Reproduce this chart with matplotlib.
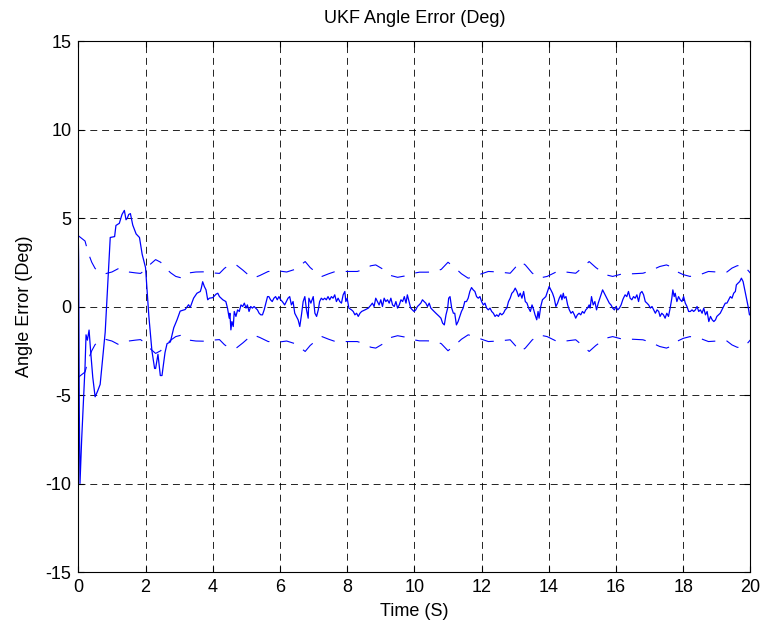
import numpy as np
import matplotlib
matplotlib.use("Agg")
import matplotlib.pyplot as plt

# angle error samples (time s, error deg)
t_err = [0.0, 0.01, 0.03, 0.05, 0.1, 0.2, 0.23, 0.27, 0.32, 0.37, 0.43, 0.5, 0.57, 0.65, 0.8,
         0.95, 1.08, 1.12, 1.22, 1.3, 1.37, 1.42, 1.46, 1.5, 1.55, 1.62, 1.72, 1.82, 1.9, 2.0,
         2.1, 2.19, 2.27, 2.3, 2.37, 2.44, 2.49, 2.58, 2.64, 2.74, 2.84, 2.94, 3.03, 3.18, 3.28,
         3.33, 3.43, 3.53, 3.63, 3.66, 3.7, 3.75, 3.8, 3.85, 3.9, 4.0, 4.1, 4.15, 4.2, 4.3,
         4.39, 4.44, 4.49, 4.51, 4.54, 4.57, 4.61, 4.64, 4.69, 4.74, 4.79, 4.84, 4.89, 4.94, 4.99,
         5.03, 5.08, 5.13, 5.18, 5.23, 5.33, 5.38, 5.43, 5.48, 5.53, 5.58, 5.63, 5.67, 5.72, 5.77,
         5.82, 5.87, 5.92, 5.97, 6.02, 6.07, 6.14, 6.24, 6.29, 6.34, 6.39, 6.44, 6.49, 6.54, 6.59,
         6.64, 6.69, 6.74, 6.79, 6.84, 6.86, 6.92, 6.99, 7.04, 7.09, 7.14, 7.18, 7.23, 7.28, 7.33,
         7.38, 7.43, 7.48, 7.53, 7.58, 7.63, 7.68, 7.73, 7.78, 7.83, 7.88, 7.93, 7.96, 8.0, 8.05,
         8.13, 8.18, 8.23, 8.28, 8.33, 8.38, 8.43, 8.53, 8.63, 8.71, 8.75, 8.8, 8.85, 8.9, 8.95,
         9.0, 9.05, 9.1, 9.15, 9.2, 9.25, 9.3, 9.35, 9.4, 9.45, 9.5, 9.55, 9.6, 9.65, 9.7,
         9.75, 9.79, 9.84, 9.89, 9.94, 9.99, 10.04, 10.09, 10.14, 10.19, 10.24, 10.29, 10.34, 10.39, 10.44,
         10.49, 10.54, 10.64, 10.74, 10.79, 10.84, 10.89, 10.94, 10.99, 11.02, 11.06, 11.11, 11.16, 11.2, 11.25,
         11.3, 11.35, 11.4, 11.45, 11.5, 11.55, 11.6, 11.65, 11.7, 11.75, 11.8, 11.85, 11.9, 11.95, 12.0,
         12.05, 12.1, 12.15, 12.2, 12.25, 12.3, 12.35, 12.4, 12.45, 12.5, 12.55, 12.6, 12.65, 12.7, 12.75,
         12.8, 12.85, 12.9, 12.95, 13.0, 13.05, 13.1, 13.15, 13.2, 13.25, 13.3, 13.35, 13.4, 13.45, 13.5,
         13.55, 13.59, 13.64, 13.68, 13.71, 13.76, 13.81, 13.86, 13.91, 13.96, 14.01, 14.06, 14.11, 14.16, 14.21,
         14.26, 14.31, 14.36, 14.39, 14.43, 14.46, 14.51, 14.56, 14.61, 14.66, 14.71, 14.76, 14.8, 14.85, 14.9,
         14.95, 15.0, 15.05, 15.1, 15.15, 15.2, 15.23, 15.27, 15.32, 15.37, 15.42, 15.47, 15.55, 15.6, 15.65,
         15.7, 15.75, 15.8, 15.85, 15.9, 15.95, 16.0, 16.05, 16.1, 16.15, 16.2, 16.22, 16.27, 16.32, 16.37,
         16.42, 16.47, 16.52, 16.57, 16.62, 16.67, 16.72, 16.77, 16.82, 16.87, 16.92, 16.97, 17.02, 17.07, 17.12,
         17.17, 17.22, 17.27, 17.31, 17.36, 17.41, 17.46, 17.51, 17.56, 17.61, 17.66, 17.69, 17.73, 17.76, 17.81,
         17.86, 17.91, 17.96, 18.01, 18.06, 18.11, 18.16, 18.21, 18.26, 18.31, 18.36, 18.41, 18.46, 18.51, 18.56,
         18.61, 18.66, 18.71, 18.76, 18.81, 18.86, 18.91, 18.96, 19.0, 19.05, 19.1, 19.15, 19.2, 19.25, 19.3,
         19.35, 19.4, 19.45, 19.5, 19.55, 19.58, 19.63, 19.68, 19.73, 19.78, 19.83, 19.88, 19.93, 19.97, 20.0]
err = [3.9, 2.6, -6.0, -10.0, -7.5, -3.4, -1.6, -1.9, -1.33, -2.6, -4.0, -5.1, -4.8, -4.4, -1.45,
       3.9, 3.95, 4.58, 4.7, 5.2, 5.43, 4.9, 5.0, 5.2, 5.25, 4.6, 4.1, 3.9, 2.95, 2.2,
       -0.57, -2.5, -3.5, -3.5, -2.7, -3.9, -3.9, -2.6, -2.1, -2.0, -1.2, -0.74, -0.26, -0.17, 0.1,
       -0.05, 0.47, 0.75, 0.85, 1.04, 1.4, 1.13, 0.94, 0.38, 0.47, 0.5, 0.7, 0.75, 0.56, 0.38,
       0.28, -0.1, -0.66, -0.38, -1.32, -0.85, -1.13, -0.28, -0.56, -0.19, -0.28, 0.09, 0.0, 0.19, -0.09,
       0.09, -0.28, 0.0, -0.09, 0.0, -0.19, -0.38, -0.47, -0.47, -0.19, 0.19, 0.56, 0.56, 0.38, 0.28,
       0.47, 0.56, 0.38, 0.56, 0.38, 0.28, 0.09, 0.47, 0.56, 0.09, 0.28, -0.38, -0.56, -0.75, -1.13,
       -0.47, 0.28, 0.56, -0.19, -0.66, 0.47, 0.19, 0.56, -0.38, -0.56, -0.19, 0.28, 0.47, 0.38, 0.47,
       0.38, 0.56, 0.38, 0.56, 0.47, 0.66, 0.28, 0.47, 0.28, 0.19, 0.66, 0.85, 0.28, 0.47, -0.09,
       -0.19, -0.28, -0.47, -0.38, -0.56, -0.38, -0.28, -0.19, -0.09, 0.09, 0.19, 0.0, 0.47, 0.28, 0.09,
       0.38, 0.0, 0.47, 0.28, 0.38, 0.19, 0.47, 0.09, 0.0, 0.28, -0.09, 0.09, 0.38, 0.28, 0.56,
       0.19, 0.66, 0.28, -0.09, -0.19, -0.28, -0.19, 0.0, 0.09, 0.19, 0.38, 0.28, 0.19, 0.0, 0.19,
       -0.09, -0.19, -0.38, -0.56, -0.66, -0.94, -1.04, -0.47, -0.09, 0.47, 0.56, -0.09, -0.38, -0.38, -1.04,
       -0.85, -0.56, -0.28, -0.09, 0.28, 0.28, 0.47, 0.85, 1.07, 0.94, 0.85, 0.56, 0.47, 0.56, 0.28,
       0.09, 0.19, -0.09, -0.19, -0.09, -0.28, -0.38, -0.56, -0.47, -0.56, -0.38, -0.47, -0.38, -0.19, -0.09,
       0.28, 0.47, 0.75, 0.85, 1.04, 0.85, 0.56, 0.75, 0.47, 0.85, 0.28, 0.19, -0.09, -0.28, 0.09,
       -0.19, -0.47, -0.75, -0.28, -0.66, 0.0, 0.38, 0.47, 0.56, 0.85, 1.13, 0.94, 0.75, 0.47, 0.0,
       0.19, 0.47, 0.66, 0.38, 0.75, 0.47, 0.56, 0.09, -0.19, -0.38, -0.28, -0.47, -0.66, -0.47, -0.38,
       -0.47, -0.28, -0.38, -0.19, -0.09, 0.09, -0.09, 0.56, 0.09, 0.28, -0.19, 0.19, 0.66, 0.94, 0.75,
       0.56, 0.38, 0.19, 0.09, -0.09, -0.19, 0.0, -0.19, -0.09, 0.09, 0.38, 0.47, 0.66, 0.56, 0.85,
       0.47, 0.38, 0.56, 0.47, 0.66, 0.28, 0.75, 0.85, 0.66, 0.28, 0.19, 0.09, -0.09, 0.0, -0.19,
       -0.38, -0.19, -0.28, -0.56, -0.38, -0.47, -0.66, -0.38, -0.56, -0.09, 0.47, 0.94, 0.56, 0.75, 0.28,
       0.56, 0.38, 0.28, 0.56, 0.19, 0.0, -0.28, -0.28, -0.19, -0.28, -0.19, 0.0, -0.28, -0.19, -0.38,
       -0.09, -0.47, -0.28, -0.85, -0.56, -0.75, -0.85, -0.75, -0.56, -0.47, -0.38, -0.19, 0.0, 0.19, 0.19,
       0.38, 0.56, 0.47, 0.75, 0.85, 1.22, 1.32, 1.41, 1.6, 1.41, 0.94, 0.47, 0.0, -0.47, -0.47]

# 1-sigma style bound (deg), drawn as +/- dashed
t_bnd = [0.0, 0.1, 0.2, 0.3, 0.4, 0.5, 0.6, 0.7, 0.8, 1.0, 1.2, 1.35, 1.5, 1.7, 1.85,
         2.0, 2.15, 2.3, 2.45, 2.6, 2.75, 2.9, 3.1, 3.3, 3.5, 3.75, 4.0, 4.2, 4.35, 4.5,
         4.7, 4.9, 5.05, 5.2, 5.4, 5.65, 5.8, 6.0, 6.2, 6.45, 6.75, 6.9, 7.1, 7.25, 7.45,
         7.65, 8.0, 8.3, 8.5, 8.7, 8.85, 9.1, 9.3, 9.5, 9.7, 9.9, 10.15, 10.35, 10.6, 10.8,
         11.0, 11.2, 11.4, 11.6, 11.8, 12.0, 12.2, 12.5, 12.85, 13.0, 13.15, 13.3, 13.5, 13.7, 13.95,
         14.25, 14.5, 14.8, 15.0, 15.2, 15.4, 15.7, 15.9, 16.2, 16.5, 16.8, 17.0, 17.3, 17.5, 17.7,
         17.8, 18.0, 18.2, 18.5, 18.75, 19.0, 19.3, 19.45, 19.6, 19.75, 19.9, 20.0]
bnd = [4.0, 3.85, 3.7, 3.0, 2.5, 2.15, 1.98, 1.9, 1.85, 1.95, 2.15, 2.03, 1.95, 1.9, 1.87,
       2.07, 2.4, 2.65, 2.5, 2.16, 1.9, 1.7, 1.6, 1.9, 1.95, 1.96, 1.9, 1.87, 2.16, 2.35,
       2.35, 2.05, 1.8, 1.6, 1.75, 1.98, 1.98, 2.0, 1.95, 2.1, 2.54, 2.2, 1.88, 1.7, 1.85,
       1.98, 1.98, 1.98, 2.1, 2.3, 2.35, 2.07, 1.75, 1.65, 1.72, 1.85, 1.94, 1.94, 1.95, 2.1,
       2.5, 2.2, 1.85, 1.6, 1.7, 1.85, 1.98, 1.95, 1.88, 2.2, 2.54, 2.35, 1.9, 1.6, 1.7,
       1.98, 1.95, 1.88, 2.2, 2.54, 2.2, 1.79, 1.7, 1.85, 1.85, 1.88, 2.0, 2.26, 2.35, 2.2,
       1.98, 1.8, 1.7, 1.8, 1.98, 1.95, 1.95, 2.17, 2.3, 2.35, 2.1, 1.88]

plt.rcParams['font.family'] = ['Liberation Sans', 'DejaVu Sans']
plt.rcParams['lines.scale_dashes'] = False
plt.rcParams['axes.unicode_minus'] = False

fig = plt.figure(figsize=(7.64, 6.31), dpi=100)
ax = fig.add_axes([0.1025, 0.0935, 0.8798, 0.8415])

b = np.array(bnd)
ax.plot(t_bnd, b, color='b', lw=0.8, dashes=(10, 8))
ax.plot(t_bnd, -b, color='b', lw=0.8, dashes=(10, 8))
ax.plot(t_err, err, color='b', lw=0.9)

ax.set_xlim(0, 20)
ax.set_ylim(-15, 15)
ax.set_xticks(np.arange(0, 21, 2))
ax.set_yticks(np.arange(-15, 16, 5))
ax.grid(True, color='k', lw=0.6, dashes=(5, 3.5))
ax.tick_params(direction='in', top=True, right=True, length=4, labelsize=13, pad=5)
for s in ax.spines.values():
    s.set_linewidth(0.8)

ax.set_title('UKF Angle Error (Deg)', fontsize=13, pad=13)
ax.set_xlabel('Time (S)', fontsize=13, labelpad=5)
ax.set_ylabel('Angle Error (Deg)', fontsize=13, labelpad=9)

fig.savefig('out.png', dpi=100)
